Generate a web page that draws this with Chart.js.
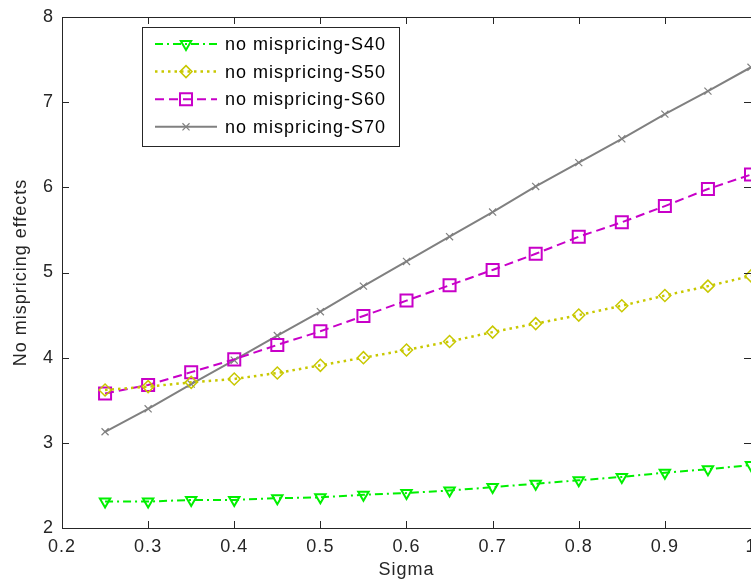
<!DOCTYPE html>
<html lang="en">
<head>
<meta charset="UTF-8">
<title>No mispricing effects</title>
<script src="https://cdn.jsdelivr.net/npm/chart.js@4.4.0/dist/chart.umd.min.js"></script>
<style>
  html, body { margin: 0; padding: 0; background: #fff; overflow: hidden; }
  canvas { display: block; }
</style>
</head>
<body>
<canvas id="chart" width="751" height="584"></canvas>
<script>
// values
const sigma = [0.25, 0.30, 0.35, 0.40, 0.45, 0.50, 0.55, 0.60, 0.65, 0.70, 0.75, 0.80, 0.85, 0.90, 0.95, 1.00];
const s40 = [2.31, 2.31, 2.33, 2.33, 2.35, 2.36, 2.39, 2.41, 2.44, 2.48, 2.52, 2.56, 2.60, 2.65, 2.69, 2.74];
const s50 = [3.62, 3.66, 3.71, 3.75, 3.82, 3.91, 4.00, 4.09, 4.19, 4.30, 4.40, 4.50, 4.61, 4.73, 4.84, 4.96];
const s60 = [3.58, 3.68, 3.83, 3.98, 4.15, 4.31, 4.49, 4.67, 4.85, 5.03, 5.22, 5.42, 5.59, 5.78, 5.98, 6.15];
const s70 = [3.13, 3.40, 3.69, 3.97, 4.26, 4.54, 4.84, 5.13, 5.42, 5.71, 6.01, 6.29, 6.57, 6.86, 7.13, 7.41];
const seriesNames = ["no mispricing-S40", "no mispricing-S50", "no mispricing-S60", "no mispricing-S70"];

const FONT = '"Liberation Sans", Arial, sans-serif';
const AXIS = '#262626';

function pts(ys) {
    return sigma.map((x, i) => ({ x: x, y: ys[i] }));
}

// matlab style box with inward ticks
const frame = {
    id: 'frame',
    beforeDraw(chart) {
        chart.ctx.letterSpacing = '1px';
    },
    afterDatasetsDraw(chart) {
        const { ctx, chartArea: a, scales } = chart;
        ctx.save();
        ctx.strokeStyle = AXIS;
        ctx.lineWidth = 1;
        ctx.setLineDash([]);
        ctx.strokeRect(a.left + 0.5, a.top + 0.5, a.right - a.left, a.bottom - a.top);
        ctx.beginPath();
        scales.x.ticks.forEach(t => {
            const x = Math.round(scales.x.getPixelForValue(t.value)) + 0.5;
            ctx.moveTo(x, a.bottom); ctx.lineTo(x, a.bottom - 7);
            ctx.moveTo(x, a.top); ctx.lineTo(x, a.top + 7);
        });
        scales.y.ticks.forEach(t => {
            const y = Math.round(scales.y.getPixelForValue(t.value)) + 0.5;
            ctx.moveTo(a.left, y); ctx.lineTo(a.left + 7, y);
            ctx.moveTo(a.right, y); ctx.lineTo(a.right - 7, y);
        });
        ctx.stroke();
        ctx.restore();
    }
};

const legendBox = {
    id: 'legendBox',
    afterDraw(chart) {
        const ctx = chart.ctx;
        ctx.save();
        ctx.fillStyle = '#fff';
        ctx.fillRect(142, 27, 257, 119);
        ctx.strokeStyle = AXIS;
        ctx.lineWidth = 1;
        ctx.setLineDash([]);
        ctx.strokeRect(142.5, 27.5, 257, 119);
        chart.data.datasets.forEach((ds, i) => {
            const y = 44 + i * 27.6;
            ctx.strokeStyle = ds.borderColor;
            ctx.lineWidth = ds.borderWidth;
            ctx.setLineDash(ds.borderDash || []);
            ctx.beginPath();
            ctx.moveTo(155, y); ctx.lineTo(217, y);
            ctx.stroke();
            ctx.setLineDash([]);
            ctx.fillStyle = 'rgba(0,0,0,0)';
            ctx.lineWidth = ds.pointBorderWidth;
            Chart.helpers.drawPoint(ctx, {
                pointStyle: ds.pointStyle,
                radius: ds.pointRadius,
                rotation: ds.pointRotation || 0,
                borderWidth: ds.pointBorderWidth
            }, 186, y);
            ctx.fillStyle = '#000';
            ctx.font = '18px ' + FONT;
            ctx.textBaseline = 'middle';
            ctx.textAlign = 'left';
            ctx.fillText(ds.label, 225, y + 1);
        });
        ctx.restore();
    }
};

new Chart(document.getElementById('chart'), {
    type: 'line',
    data: {
        datasets: [{
            label: seriesNames[0],
            data: pts(s40),
            borderColor: '#00f000',
            borderWidth: 2,
            borderDash: [8, 4, 2, 4],
            pointStyle: 'triangle',
            pointRotation: 180,
            pointRadius: 6,
            pointBorderWidth: 2
        }, {
            label: seriesNames[1],
            data: pts(s50),
            borderColor: '#c8c800',
            borderWidth: 2.5,
            borderDash: [2.5, 4],
            pointStyle: 'rectRot',
            pointRadius: 6,
            pointBorderWidth: 1.5
        }, {
            label: seriesNames[2],
            data: pts(s60),
            borderColor: '#c800c8',
            borderWidth: 2,
            borderDash: [9, 5],
            pointStyle: 'rect',
            pointRadius: 8.5,
            pointBorderWidth: 2
        }, {
            label: seriesNames[3],
            data: pts(s70),
            borderColor: '#808080',
            borderWidth: 2,
            pointStyle: 'crossRot',
            pointRadius: 5,
            pointBorderWidth: 1.2
        }].map(d => Object.assign({
            backgroundColor: 'rgba(0,0,0,0)',
            pointBackgroundColor: 'rgba(0,0,0,0)',
            pointBorderColor: d.borderColor,
            fill: false,
            tension: 0
        }, d))
    },
    options: {
        responsive: false,
        animation: false,
        devicePixelRatio: 1,
        // right edge of the axes sits just past the picture, as in the original
        layout: { autoPadding: false, padding: { top: 17, right: -2, left: 0, bottom: 0 } },
        plugins: { legend: { display: false }, tooltip: { enabled: false } },
        scales: {
            x: {
                type: 'linear',
                min: 0.2,
                max: 1.0,
                grid: { display: false, drawTicks: false },
                border: { display: false },
                afterFit: s => { s.height = 56; s.paddingLeft = 0; s.paddingRight = 0; },
                ticks: {
                    stepSize: 0.1,
                    padding: 8,
                    color: AXIS,
                    font: { family: FONT, size: 18 },
                    maxRotation: 0,
                    callback: v => String(Math.round(v * 10) / 10)
                },
                title: {
                    display: true,
                    text: 'Sigma',
                    color: AXIS,
                    font: { family: FONT, size: 18 },
                    padding: { top: 0, bottom: 3 }
                }
            },
            y: {
                min: 2,
                max: 8,
                grid: { display: false, drawTicks: false },
                border: { display: false },
                afterFit: s => { s.width = 62; s.paddingTop = 0; s.paddingBottom = 0; },
                ticks: {
                    stepSize: 1,
                    padding: 8,
                    color: AXIS,
                    font: { family: FONT, size: 18 }
                },
                title: {
                    display: true,
                    text: 'No mispricing effects',
                    color: AXIS,
                    font: { family: FONT, size: 18 },
                    padding: { top: 10, bottom: 0 }
                }
            }
        }
    },
    plugins: [frame, legendBox]
});
</script>
</body>
</html>
